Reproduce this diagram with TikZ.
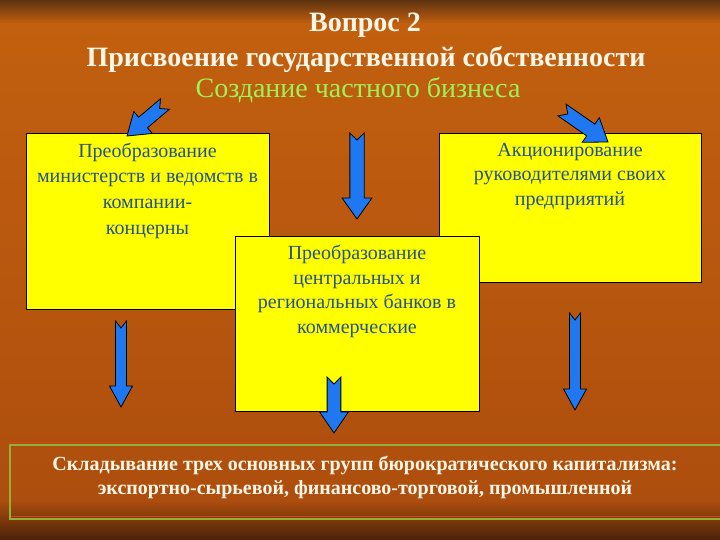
\documentclass[tikz,border=0pt]{standalone}
\usepackage{fontspec}
\setmainfont{Liberation Serif}
\usetikzlibrary{calc,positioning}

\definecolor{bgdark}{HTML}{5E3310}
\definecolor{bgorange}{HTML}{C2600F}
\definecolor{bgred}{HTML}{AE4E0E}
\definecolor{bgbottom}{HTML}{4A2208}
\definecolor{boxyellow}{HTML}{FFFF00}
\definecolor{boxink}{HTML}{25528C}
\definecolor{titleink}{HTML}{FFF6E6}
\definecolor{subink}{HTML}{9CF25A}
\definecolor{arrowblue}{HTML}{1F78F2}
\definecolor{framegreen}{HTML}{8FB23A}
\definecolor{framered}{HTML}{D8401A}

\tikzset{
  box/.style={draw=black, line width=0.9pt, fill=boxyellow, anchor=north west,
    inner sep=0pt, outer sep=0pt},
  boxtext/.style={text=boxink, align=center, inner sep=0pt,
    font=\fontsize{20}{24.5}\selectfont},
  blockarr/.style={draw=black, line width=0.8pt, fill=arrowblue, line join=miter},
}

% notched block arrow from #2 to #3, #1 = width factor
\newcommand{\blockarrow}[3][1]{%
  \coordinate (hb) at ($(#3)!21pt!(#2)$);
  \draw[blockarr] ($(#2)!#1*5.5pt!90:(#3)$) -- ($(hb)!#1*5.5pt!90:(#3)$)
    -- ($(hb)!#1*11.5pt!90:(#3)$) -- (#3) -- ($(hb)!#1*11.5pt!-90:(#3)$)
    -- ($(hb)!#1*5.5pt!-90:(#3)$) -- ($(#2)!#1*5.5pt!-90:(#3)$)
    -- ($(#2)!7pt!(#3)$) -- cycle;
}

\begin{document}
\begin{tikzpicture}[x=1pt,y=-1pt]
	\useasboundingbox (0,0) rectangle (720,540);
	% background
	\fill[bgorange] (0,0) rectangle (720,540);
	\shade[top color=bgdark, bottom color=bgorange] (0,0) rectangle (720,24);
	\shade[top color=bgorange, bottom color=bgred] (0,24) rectangle (720,500);
	\shade[top color=bgred, bottom color=bgbottom] (0,500) rectangle (720,540);
	
	\node[text=titleink, font=\fontsize{28}{32}\selectfont\bfseries] (q) at (365,25) {Вопрос 2};
	\node[text=titleink, font=\fontsize{28}{32}\selectfont\bfseries] (title) at (366,60) {Присвоение государственной собственности};
	\node[text=subink, font=\fontsize{28}{32}\selectfont] (sub) at (358,90) {Создание частного бизнеса};
	
	\node[box, minimum width=243pt, minimum height=176pt] (minbox) at (26,133) {};
	\node[box, minimum width=262pt, minimum height=149pt] (akbox) at (439,133) {};
	\node[box, minimum width=244pt, minimum height=175pt] (bankbox) at (235,236) {};
	
	\node[boxtext, below=10pt of minbox.north] (mintext) {Преобразование\\министерств и ведомств в\\[2pt]компании-\\[1pt]концерны};
	\node[boxtext, below=10pt of akbox.north] (aktext) {Акционирование\\руководителями своих\\предприятий};
	\node[boxtext, below=9pt of bankbox.north] (banktext) {Преобразование\\центральных и\\региональных банков в\\коммерческие};
	
	% bottom frame
	\draw[framered, line width=0.8pt] (10,442) rectangle (724,516);
	\draw[framegreen, line width=1.2pt] (10,445) rectangle (724,519);
	\node[text=titleink, align=center, font=\fontsize{20}{24}\selectfont\bfseries] (groups) at (365,477)
		{Складывание трех основных групп бюрократического капитализма:\\экспортно-сырьевой, финансово-торговой, промышленной};
	
	\coordinate (a1s) at (165,104);
	\coordinate (a1e) at (127,136);
	\coordinate (a2s) at (357,133);
	\coordinate (a2e) at (357,219);
	\coordinate (a3s) at (562,110);
	\coordinate (a3e) at (608,142);
	\coordinate (a4s) at (121,321);
	\coordinate (a4e) at (121,407);
	\coordinate (a5s) at (575,313);
	\coordinate (a5e) at (575,410);
	\coordinate (a6s) at (334,377);
	\coordinate (a6e) at (334,433);
	
	\blockarrow[1.25]{a1s}{a1e}
	\blockarrow[1.3]{a2s}{a2e}
	\blockarrow[1.3]{a3s}{a3e}
	\blockarrow{a4s}{a4e}
	\blockarrow{a5s}{a5e}
	\blockarrow[1.25]{a6s}{a6e}
\end{tikzpicture}
\end{document}
